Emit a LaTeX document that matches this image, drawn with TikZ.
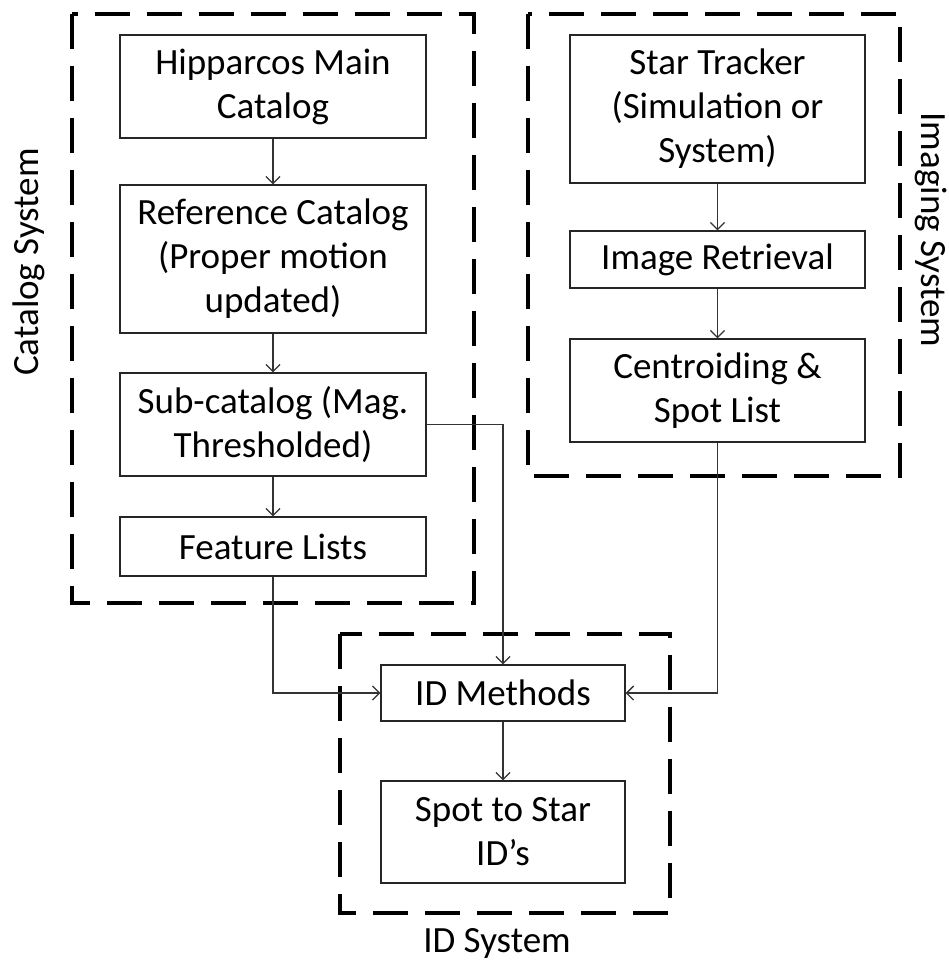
\documentclass[tikz,border=0pt]{standalone}
\usepackage{fontspec}
\setmainfont{Carlito}
\usetikzlibrary{arrows.meta}
\begin{document}
\begin{tikzpicture}[x=1pt,y=-1pt,
  blk/.style={draw=black!85,line width=1.3pt,align=center,inner sep=0pt,
    font=\fontsize{37}{44}\selectfont},
  grp/.style={draw=black,line width=4pt,dash pattern=on 35pt off 17pt},
  lbl/.style={font=\fontsize{37}{44}\selectfont,inner sep=0pt},
  conn/.style={draw=black!80,line width=1.3pt,-{Straight Barb[length=7pt,width=14pt,line width=1.3pt]}}]
\useasboundingbox (0,0) rectangle (948,963);
% group boxes
\draw[grp] (72,14) rectangle (474,603);
\draw[grp] (528,14) rectangle (900,476);
\draw[grp] (340,634) rectangle (670,913);
% labels
\node[lbl,rotate=90] (lcat) at (29,262) {Catalog System};
\node[lbl,rotate=-90] (limg) at (931,230) {Imaging System};
\node[lbl] (lid) at (497,943) {ID System};
% blocks
\node[blk,minimum width=306pt,minimum height=103pt] (hip) at (273,86.5) {Hipparcos Main\\Catalog};
\node[blk,minimum width=306pt,minimum height=148pt] (ref) at (273,259) {Reference Catalog\\(Proper motion\\updated)};
\node[blk,minimum width=306pt,minimum height=103pt] (sub) at (273,424.5) {Sub-catalog (Mag.\\Thresholded)};
\node[blk,minimum width=306pt,minimum height=59pt] (feat) at (273,546.5) {Feature Lists};
\node[blk,minimum width=295pt,minimum height=148pt] (star) at (717.5,109) {Star Tracker\\(Simulation or\\System)};
\node[blk,minimum width=295pt,minimum height=57pt] (img) at (717.5,259.5) {Image Retrieval};
\node[blk,minimum width=295pt,minimum height=103pt] (cent) at (717.5,390.5) {Centroiding \&\\Spot List};
\node[blk,minimum width=244pt,minimum height=56pt] (idm) at (503,693) {ID Methods};
\node[blk,minimum width=244pt,minimum height=102pt] (spot) at (503,832) {Spot to Star\\ID’s};
% connectors
\draw[conn] (hip) -- (ref);
\draw[conn] (ref) -- (sub);
\draw[conn] (sub) -- (feat);
\draw[conn] (star) -- (img);
\draw[conn] (img) -- (cent);
\draw[conn] (idm) -- (spot);
\draw[conn] (feat.south) |- (idm.west);
\draw[conn] (sub.east) -| (idm.north);
\draw[conn] (cent.south) |- (idm.east);
\end{tikzpicture}
\end{document}
